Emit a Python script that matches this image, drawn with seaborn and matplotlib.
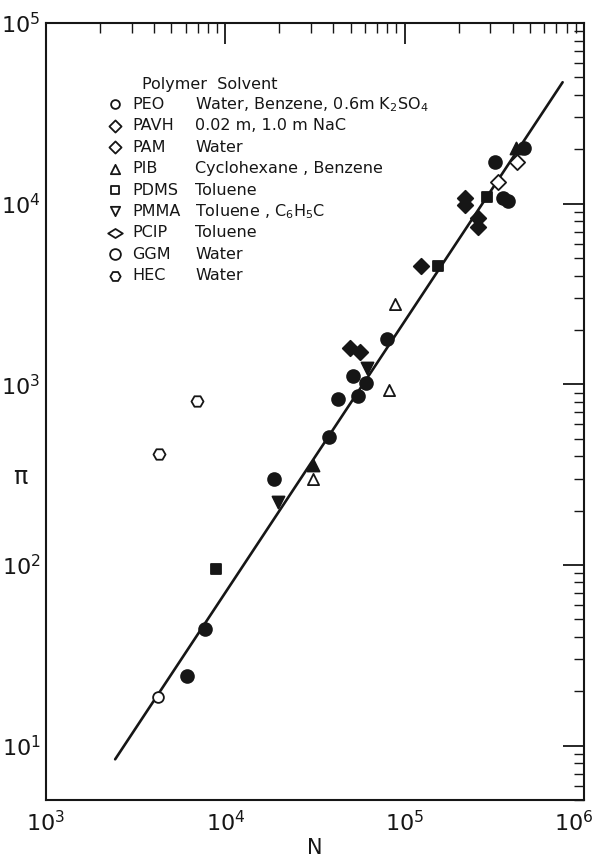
import numpy as np
import pandas as pd
import matplotlib
matplotlib.use("Agg")
import matplotlib.pyplot as plt
import matplotlib.transforms as mtransforms
import seaborn as sns
from matplotlib.ticker import LogLocator, NullFormatter, FixedLocator, FixedFormatter
from matplotlib.path import Path

# ---------------- data ----------------
peo_filled_N = [6110, 7710, 18700, 37800, 42500, 54900, 51500, 60900, 79800, 319000, 354000, 378000, 463000]
peo_filled_Pi = [24.4, 44.3, 299, 509, 826, 859, 1107, 1013, 1773, 16900, 10800, 10300, 20400]
peo_open_N = [4220]
peo_open_Pi = [18.7]
pavh_N = [49500, 56400, 123000, 217000, 217000, 257000, 257000]
pavh_Pi = [1580, 1500, 4540, 10800, 9860, 8380, 7460]
pib_open_N = [30800, 81900, 88300]
pib_open_Pi = [299, 927, 2770]
pib_filled_N = [30800, 418000]
pib_filled_Pi = [357, 20400]
pdms_N = [8870, 153000, 288000]
pdms_Pi = [95, 4540, 10900]
pmma_N = [19700, 61700]
pmma_Pi = [223, 1226]
pcip_N = [332000, 424000]
pcip_Pi = [13100, 16900]
hec_N = [4270, 6950]
hec_Pi = [410, 805]
line_N = [2430, 760000]
line_Pi = [8.4, 47000]

legend_polymers = ["PEO", "PAVH", "PAM", "PIB", "PDMS", "PMMA", "PCIP", "GGM", "HEC"]
legend_solvents = ["Water, Benzene, 0.6m K$_2$SO$_4$", "0.02 m, 1.0 m NaC", "Water",
                   "Cyclohexane , Benzene", "Toluene", "Toluene , C$_6$H$_5$C",
                   "Toluene", "Water", "Water"]

x_ticks = [1e3, 1e4, 1e5, 1e6]
x_ticklabels = ["$10^3$", "$10^4$", "$10^5$", "$10^6$"]
y_ticks = [1e1, 1e2, 1e3, 1e4, 1e5]
y_ticklabels = ["$10^1$", "$10^2$", "$10^3$", "$10^4$", "$10^5$"]

# ---------------- style ----------------
sns.set_style("white")
plt.rcParams['font.family'] = ['DejaVu Sans']
plt.rcParams['mathtext.fontset'] = 'dejavusans'
INK = "#161616"

fig = plt.figure(figsize=(5.95, 8.63), dpi=100)
ax = fig.add_axes([46 / 595, 63 / 863, 538 / 595, 777 / 863])

wide_diamond = Path([(-1, 0), (0, 0.62), (1, 0), (0, -0.62), (-1, 0)],
                    [Path.MOVETO, Path.LINETO, Path.LINETO, Path.LINETO, Path.CLOSEPOLY])

# fitted line
sns.lineplot(x=line_N, y=line_Pi, ax=ax, color=INK, lw=1.9, zorder=2)

def pts(N, Pi, marker, filled, size):
    df = pd.DataFrame({"N": N, "Pi": Pi})
    sns.scatterplot(data=df, x="N", y="Pi", ax=ax, marker=marker, s=size,
                    facecolor=INK if filled else "white", edgecolor=INK,
                    linewidth=1.3, zorder=3)

pts(peo_filled_N, peo_filled_Pi, "o", True, 85)
pts(peo_open_N, peo_open_Pi, "o", False, 60)
pts(pavh_N, pavh_Pi, "D", True, 62)
pts(pib_open_N, pib_open_Pi, "^", False, 65)
pts(pib_filled_N, pib_filled_Pi, "^", True, 75)
pts(pdms_N, pdms_Pi, "s", True, 62)
pts(pmma_N, pmma_Pi, "v", True, 75)
pts(pcip_N, pcip_Pi, "D", False, 60)
pts(hec_N, hec_Pi, "H", False, 75)

ax.set_xscale("log")
ax.set_yscale("log")
ax.set_xlim(1e3, 1e6)
ax.set_ylim(5, 1e5)

ax.xaxis.set_major_locator(FixedLocator(x_ticks))
ax.xaxis.set_major_formatter(FixedFormatter(x_ticklabels))
ax.yaxis.set_major_locator(FixedLocator(y_ticks))
ax.yaxis.set_major_formatter(FixedFormatter(y_ticklabels))
ax.xaxis.set_minor_locator(LogLocator(base=10, subs=np.arange(2, 10)))
ax.yaxis.set_minor_locator(LogLocator(base=10, subs=np.arange(2, 10)))
ax.xaxis.set_minor_formatter(NullFormatter())
ax.yaxis.set_minor_formatter(NullFormatter())

ax.tick_params(which="major", direction="in", length=15, width=1.3, color=INK,
               top=True, right=True, labelsize=16, labelcolor=INK)
ax.tick_params(which="minor", direction="in", length=7, width=1.0, color=INK,
               top=True, right=True)
ax.tick_params(axis="x", which="major", pad=7)
ax.tick_params(axis="y", which="major", pad=4)

# keep the last x label inside the page, as in the original
last = ax.get_xticklabels()[-1]
last.set_transform(last.get_transform() + mtransforms.ScaledTranslation(-10 / 100, 0, fig.dpi_scale_trans))

for sp in ax.spines.values():
    sp.set_color(INK)
    sp.set_linewidth(1.5)
    sp.set_visible(True)

ax.set_xlabel("")
ax.set_ylabel("")
fig.text(315 / 595, 1 - 848 / 863, "N", ha="center", va="center", fontsize=15, color=INK)
fig.text(20 / 595, 1 - 477 / 863, "π", ha="center", va="center", fontsize=17, color=INK)

# ---------------- legend (hand-laid like the original) ----------------
def fx(px):
    return (px - 46) / 538

def fy(py):
    return (800 - py) / 777

leg_markers = [("o", 40), ("D", 38), ("D", 38), ("^", 45), ("s", 38), ("v", 45),
               (wide_diamond, 110), ("o", 60), ("H", 55)]
FS = 11.5
ax.text(fx(142), fy(84), "Polymer  Solvent", transform=ax.transAxes, fontsize=FS,
        color=INK, va="center", ha="left")
for i, (poly, solv) in enumerate(zip(legend_polymers, legend_solvents)):
    yy = fy(104.5 + 21.4 * i)
    m, s = leg_markers[i]
    ax.scatter([fx(115)], [yy], transform=ax.transAxes, marker=m, s=s,
               facecolor="white", edgecolor=INK, linewidth=1.3, zorder=4, clip_on=False)
    ax.text(fx(132), yy, poly, transform=ax.transAxes, fontsize=FS, color=INK,
            va="center", ha="left")
    ax.text(fx(195), yy, solv, transform=ax.transAxes, fontsize=FS, color=INK,
            va="center", ha="left")

fig.savefig("out.png", dpi=100, facecolor="white")
